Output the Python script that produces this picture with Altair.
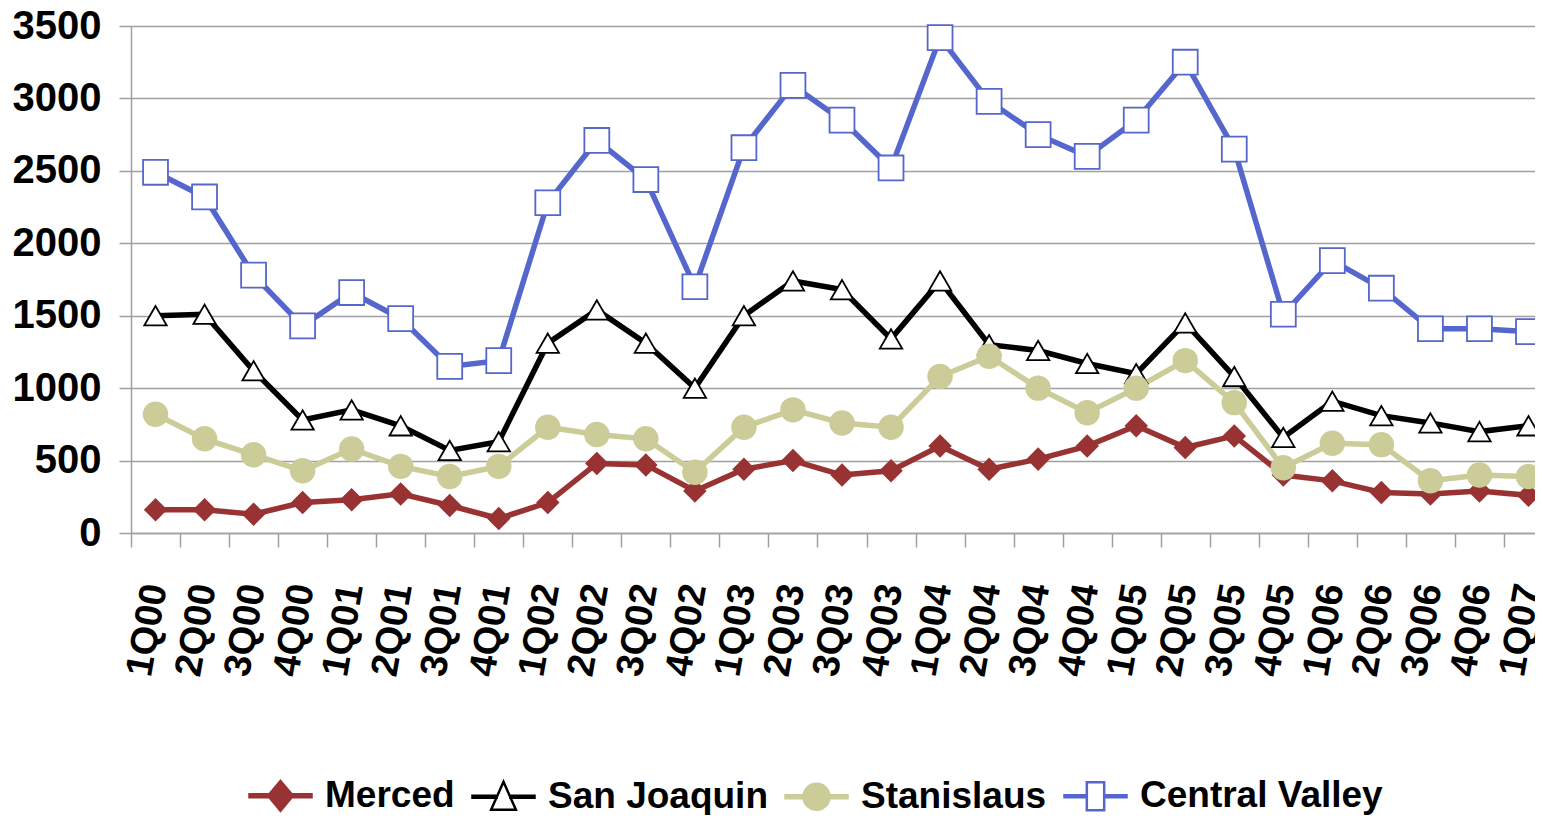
import altair as alt
import pandas as pd

quarters = ["1Q00", "2Q00", "3Q00", "4Q00", "1Q01", "2Q01", "3Q01", "4Q01",
            "1Q02", "2Q02", "3Q02", "4Q02", "1Q03", "2Q03", "3Q03", "4Q03",
            "1Q04", "2Q04", "3Q04", "4Q04", "1Q05", "2Q05", "3Q05", "4Q05",
            "1Q06", "2Q06", "3Q06", "4Q06", "1Q07"]

series = ["Merced", "San Joaquin", "Stanislaus", "Central Valley"]

merced = [160, 160, 130, 210, 230, 270, 190, 100, 210, 480, 470, 290, 440, 500, 400,
          430, 600, 440, 510, 600, 740, 590, 670, 400, 360, 280, 270, 290, 260]
san_joaquin = [1500, 1510, 1120, 780, 850, 740, 570, 630, 1310, 1540, 1310, 1000, 1500,
               1740, 1680, 1340, 1740, 1300, 1260, 1170, 1100, 1450, 1080, 660, 910,
               810, 760, 700, 740]
stanislaus = [820, 650, 540, 430, 580, 460, 390, 460, 730, 680, 650, 420, 730, 850, 760,
              730, 1080, 1220, 1000, 830, 1000, 1190, 900, 450, 620, 610, 360, 400, 390]
central_valley = [2490, 2320, 1780, 1430, 1660, 1480, 1150, 1190, 2280, 2710, 2440, 1700,
                  2660, 3090, 2850, 2520, 3420, 2980, 2750, 2600, 2850, 3250, 2650, 1510,
                  1880, 1690, 1410, 1410, 1390]

line_colors = ["#993333", "#000000", "#cccc99", "#5566cc"]
fill_colors = ["#993333", "#ffffff", "#cccc99", "#ffffff"]
stroke_colors = ["#993333", "#000000", "#cccc99", "#5566cc"]
shapes = ["diamond", "triangle-up", "circle", "square"]
sizes = [440, 620, 460, 400]

legend_paths = [
    "M-1,-0.05H1V0.05H-1Z M0,-0.48L0.4,0L0,0.48L-0.4,0Z",
    "M-1,-0.035H-0.22V0.035H-1Z M0.22,-0.035H1V0.035H0.22Z M0,-0.48L0.4,0.42L-0.4,0.42Z",
    "M-1,-0.05H1V0.05H-1Z M-0.42,0A0.42,0.42 0 1,1 0.42,0A0.42,0.42 0 1,1 -0.42,0Z",
    "M-1,-0.035H-0.28V0.035H-1Z M0.28,-0.035H1V0.035H0.28Z M-0.28,-0.45H0.28V0.45H-0.28Z",
]

rows = []
for name, vals in zip(series, [merced, san_joaquin, stanislaus, central_valley]):
    for i, (q, v) in enumerate(zip(quarters, vals)):
        rows.append({"series": name, "quarter": q, "idx": i, "value": v})
df = pd.DataFrame(rows)

FONT = "Liberation Sans"
GRAY = "#a0a0a0"

x_enc = alt.X(
    "quarter:N", sort=quarters,
    scale=alt.Scale(type="band", paddingInner=0, paddingOuter=0),
    axis=alt.Axis(title=None, labelAngle=280, labelAlign="right", labelBaseline="middle",
                  labelFontSize=38, labelFontWeight="bold", labelFont=FONT,
                  labelColor="#000000", labelPadding=37, labelOverlap=False,
                  labelFlush=False, tickBand="extent", tickSize=14, tickColor=GRAY,
                  tickWidth=1.5, domainColor=GRAY, domainWidth=1.5, grid=False),
)
y_enc = alt.Y(
    "value:Q",
    scale=alt.Scale(domain=[0, 3500], nice=False),
    axis=alt.Axis(title=None, values=list(range(0, 3501, 500)), format="d",
                  labelFontSize=40, labelFontWeight="bold", labelFont=FONT,
                  labelColor="#000000", labelPadding=18, tickSize=12, tickColor=GRAY,
                  tickWidth=1.5, domainColor=GRAY, domainWidth=1.5, grid=True,
                  gridColor=GRAY, gridWidth=1.5),
)

base = alt.Chart(df).encode(x=x_enc, y=y_enc)

lines = base.mark_line(strokeWidth=5.5).encode(
    color=alt.Color("series:N", sort=series,
                    scale=alt.Scale(domain=series, range=line_colors), legend=None),
    order=alt.Order("idx:Q"),
)

points = base.mark_point(filled=True, opacity=1).encode(
    shape=alt.Shape("series:N", scale=alt.Scale(domain=series, range=shapes), legend=None),
    fill=alt.Fill("series:N", scale=alt.Scale(domain=series, range=fill_colors), legend=None),
    stroke=alt.Stroke("series:N", scale=alt.Scale(domain=series, range=stroke_colors), legend=None),
    size=alt.Size("series:N", scale=alt.Scale(domain=series, range=sizes), legend=None),
    strokeWidth=alt.value(1.8),
)

leg = alt.Legend(title=None, orient="none", legendX=117, legendY=737, direction="horizontal",
                 columns=4, symbolSize=3844, symbolStrokeWidth=2.5, symbolOpacity=1,
                 labelFontSize=37, labelFont=FONT, labelFontWeight="bold",
                 labelColor="#000000", labelOffset=12, columnPadding=12,
                 labelLimit=0)

legend_layer = base.mark_point(filled=True, opacity=0).encode(
    shape=alt.Shape("series:N", scale=alt.Scale(domain=series, range=legend_paths), legend=leg),
    fill=alt.Fill("series:N", scale=alt.Scale(domain=series, range=fill_colors), legend=leg),
    stroke=alt.Stroke("series:N", scale=alt.Scale(domain=series, range=stroke_colors), legend=leg),
)

chart = alt.layer(lines, points, legend_layer).resolve_scale(
    color="independent", shape="independent", fill="independent",
    stroke="independent", size="independent",
).properties(
    width=1422, height=507,
    autosize=alt.AutoSizeParams(type="none"),
    padding={"left": 123, "top": 18, "right": -18, "bottom": 282},
).configure_view(stroke=None)

chart.save("out.html", embed_options={"renderer": "svg", "actions": False})
